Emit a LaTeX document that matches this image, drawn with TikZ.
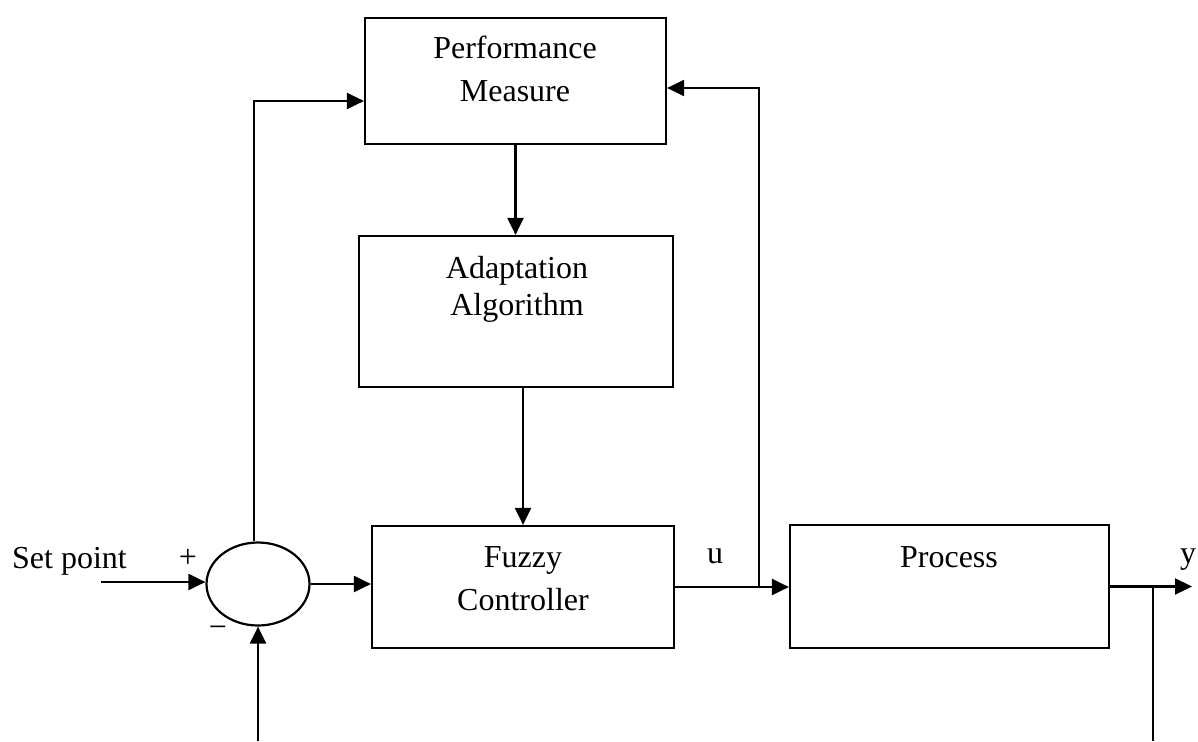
\documentclass[tikz,border=0pt]{standalone}
\usepackage{fontspec}
\setmainfont{Liberation Serif}
\usetikzlibrary{arrows.meta,shapes.geometric}
\begin{document}
\begin{tikzpicture}[x=1pt,y=-1pt,
  every node/.style={font=\fontsize{32}{38}\selectfont, inner sep=0pt},
  blk/.style={draw, line width=2.2pt, rectangle},
  wire/.style={line width=2.2pt},
  arr/.style={wire, -{Triangle[length=17pt,width=16pt]}},
  txt/.style={anchor=base}]
\useasboundingbox (0,0) rectangle (1198,741);

% blocks
\node[blk, minimum width=301pt, minimum height=126pt] (pm) at (515.5,81) {};
\node[blk, minimum width=314pt, minimum height=151pt] (aa) at (516,311.5) {};
\node[blk, minimum width=302pt, minimum height=122pt] (fc) at (523,587) {};
\node[blk, minimum width=319pt, minimum height=123pt] (proc) at (949.5,586.5) {};
\node[draw, ellipse, line width=2.2pt, minimum width=103pt, minimum height=83pt] (sum) at (258,584) {};

% block texts
\node[txt] (pmA) at (515,59) {Performance};
\node[txt] (pmB) at (515,102) {Measure};
\node[txt] (aaA) at (517,278) {Adaptation};
\node[txt] (aaB) at (517,315) {Algorithm};
\node[txt] (fcA) at (523,567) {Fuzzy};
\node[txt] (fcB) at (523,610) {Controller};
\node[txt] (prA) at (949,567) {Process};

% signal labels
\node[anchor=base west] (sp) at (12,568) {Set point};
\node (plus) at (188,558) {+};
\node (minus) at (218,632) {−};
\node[txt] (ulab) at (715,563) {u};
\node[anchor=base west] (ylab) at (1180,563) {y};

% connection points
\coordinate (spin) at (101,582);
\coordinate (utap) at (759,587);
\coordinate (yout) at (1192,587);
\coordinate (ytap) at (1153,587);
\coordinate (ybot) at (1153,741);
\coordinate (fbbot) at (258,741);

% connectors
\draw[arr] (spin) -- (spin -| sum.west);
\draw[arr] (sum.east) -- (sum.east -| fc.west);
\draw[arr] ([xshift=-4pt]sum.north) |- ([yshift=-20pt]pm.west);
\draw[arr] (pm.south) -- (pm.south |- aa.north);
\draw[arr] (fc.north |- aa.south) -- (fc.north);
\draw[arr] (fc.east) -- (fc.east -| proc.west);
\draw[arr] (utap) |- ([yshift=-7pt]pm.east);
\draw[arr] (proc.east) -- (proc.east -| yout);
\draw[wire] (ytap) -- (ybot);
\draw[arr] (fbbot) -- (sum.south);
\end{tikzpicture}
\end{document}
